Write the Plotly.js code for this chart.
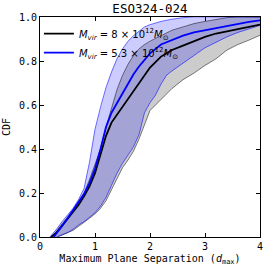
<!DOCTYPE html>
<html>
<head>
<meta charset="utf-8">
<script src="https://cdn.plot.ly/plotly-3.0.1.min.js"></script>
<style>html,body{margin:0;padding:0;background:#fff;}#chart{width:266px;height:267px;}</style>
</head>
<body>
<div id="chart"></div>
<script>
// Median CDF, M_vir = 8e12
var blackMedX = [0.2,0.3,0.4,0.5,0.6,0.7,0.8,0.9,1.0,1.1,1.2,1.3,1.4,1.5,1.6,1.7,1.8,1.9,2.0,2.2,2.4,2.6,2.8,3.0,3.2,3.4,3.6,3.8,4.0];
var blackMedY = [0,0.02,0.05,0.08,0.11,0.145,0.185,0.23,0.29,0.37,0.46,0.52,0.555,0.59,0.625,0.66,0.70,0.735,0.77,0.82,0.85,0.87,0.89,0.91,0.925,0.935,0.945,0.955,0.965];
// Upper envelope, M_vir = 8e12
var blackUpX = [0.2,0.3,0.4,0.5,0.6,0.7,0.8,0.9,1.0,1.1,1.2,1.3,1.4,1.5,1.6,1.7,1.8,1.9,2.0,2.2,2.4,2.6,2.8,3.0,3.2,3.4,3.6,3.8,4.0];
var blackUpY = [0,0.025,0.06,0.09,0.12,0.16,0.20,0.26,0.33,0.40,0.50,0.59,0.67,0.735,0.785,0.825,0.855,0.875,0.89,0.915,0.94,0.955,0.97,0.98,0.99,0.997,1.0,1.0,1.0];
// Lower envelope, M_vir = 8e12
var blackLowX = [0.32,0.4,0.5,0.6,0.7,0.8,0.9,1.0,1.1,1.2,1.3,1.4,1.5,1.6,1.7,1.8,1.9,2.0,2.2,2.4,2.6,2.8,3.0,3.2,3.4,3.6,3.8,4.0];
var blackLowY = [0,0.008,0.018,0.03,0.048,0.065,0.085,0.105,0.13,0.165,0.215,0.27,0.315,0.35,0.39,0.445,0.51,0.575,0.625,0.675,0.715,0.745,0.78,0.81,0.85,0.875,0.895,0.917];

// Median CDF, M_vir = 5.3e12
var blueMedX = [0.25,0.3,0.4,0.5,0.6,0.7,0.8,0.9,1.0,1.1,1.2,1.3,1.4,1.5,1.6,1.7,1.8,1.9,2.0,2.2,2.4,2.6,2.8,3.0,3.2,3.4,3.6,3.8,4.0];
var blueMedY = [0,0.015,0.05,0.085,0.12,0.155,0.195,0.245,0.31,0.40,0.50,0.565,0.61,0.655,0.70,0.74,0.775,0.805,0.835,0.875,0.895,0.915,0.93,0.94,0.95,0.96,0.97,0.978,0.985];
// Upper envelope, M_vir = 5.3e12
var blueUpX = [0.18,0.3,0.4,0.5,0.6,0.7,0.8,0.9,1.0,1.1,1.2,1.3,1.4,1.5,1.6,1.7,1.8,1.9,2.0,2.2,2.4,2.6,2.8,3.0,4.0];
var blueUpY = [0,0.035,0.07,0.10,0.13,0.17,0.22,0.34,0.49,0.59,0.68,0.75,0.81,0.855,0.89,0.915,0.935,0.955,0.965,0.98,0.99,0.997,1.0,1.0,1.0];
// Lower envelope, M_vir = 5.3e12
var blueLowX = [0.3,0.4,0.5,0.6,0.7,0.8,0.9,1.0,1.1,1.2,1.3,1.4,1.5,1.6,1.7,1.8,1.9,2.0,2.1,2.2,2.3,2.4,2.6,2.8,3.0,3.2,3.4,3.6,3.8,4.0];
var blueLowY = [0,0.01,0.02,0.035,0.055,0.07,0.09,0.11,0.14,0.18,0.235,0.29,0.335,0.37,0.41,0.465,0.565,0.61,0.645,0.695,0.735,0.755,0.79,0.825,0.86,0.885,0.91,0.93,0.945,0.962];

var seriesNames = ['<i>M</i><sub><i>vir</i></sub> = 8 × 10<sup>12</sup><i>M</i><sub>⊙</sub>',
                   '<i>M</i><sub><i>vir</i></sub> = 5.3 × 10<sup>12</sup><i>M</i><sub>⊙</sub>'];
var xTicks = [0,1,2,3,4];
var chartTitle = 'ESO324-024';
var xTitle = 'Maximum Plane Separation (<i>d</i><sub>max</sub>)';
var yTitle = 'CDF';

function band(lx, ly, ux, uy) {
  return {x: lx.concat(ux.slice().reverse()), y: ly.concat(uy.slice().reverse())};
}
var gb = band(blackLowX, blackLowY, blackUpX, blackUpY);
var bb = band(blueLowX, blueLowY, blueUpX, blueUpY);

var traces = [
  {x: gb.x, y: gb.y, mode: 'lines', fill: 'toself', fillcolor: 'rgba(0,0,0,0.2)', line: {width: 0}, showlegend: false, hoverinfo: 'skip'},
  {x: bb.x, y: bb.y, mode: 'lines', fill: 'toself', fillcolor: 'rgba(0,0,255,0.2)', line: {width: 0}, showlegend: false, hoverinfo: 'skip'},
  {x: blackUpX, y: blackUpY, mode: 'lines', line: {color: 'rgba(0,0,0,0.7)', width: 0.7}, showlegend: false},
  {x: blackLowX, y: blackLowY, mode: 'lines', line: {color: 'rgba(0,0,0,0.7)', width: 0.7}, showlegend: false},
  {x: blueUpX, y: blueUpY, mode: 'lines', line: {color: 'rgba(0,0,255,0.8)', width: 0.7}, showlegend: false},
  {x: blueLowX, y: blueLowY, mode: 'lines', line: {color: 'rgba(0,0,255,0.8)', width: 0.7}, showlegend: false},
  {x: blackMedX, y: blackMedY, mode: 'lines', name: seriesNames[0], line: {color: '#000000', width: 1.8}},
  {x: blueMedX, y: blueMedY, mode: 'lines', name: seriesNames[1], line: {color: '#0000ff', width: 1.8}}
];

var mono = 'DejaVu Sans Mono, monospace';
var layout = {
  width: 266, height: 267,
  margin: {l: 40, r: 6, t: 17, b: 30, pad: 0},
  paper_bgcolor: '#ffffff', plot_bgcolor: '#ffffff',
  font: {family: mono, size: 10, color: '#000'},
  title: {text: chartTitle, font: {family: mono, size: 12.5, color: '#000'}, x: 0.5, xref: 'paper', y: 1 - 8.5/267, yanchor: 'middle'},
  showlegend: true,
  legend: {x: -0.005, y: 0.99, xanchor: 'left', yanchor: 'top', bgcolor: 'rgba(0,0,0,0)', borderwidth: 0,
           font: {family: 'DejaVu Sans, sans-serif', size: 10, color: '#000'}, tracegroupgap: 0},
  xaxis: {range: [0, 4], tickvals: xTicks, ticks: 'inside', ticklen: 4, tickwidth: 1, tickcolor: '#000',
          mirror: 'ticks', showline: true, linecolor: '#000', linewidth: 1, showgrid: false, zeroline: false,
          tickfont: {family: mono, size: 10}, title: {text: xTitle, font: {family: mono, size: 10}, standoff: 3}},
  yaxis: {range: [0, 1], dtick: 0.2, tick0: 0, tickformat: '.1f', ticks: 'inside', ticklen: 4, tickwidth: 1, tickcolor: '#000',
          mirror: 'ticks', showline: true, linecolor: '#000', linewidth: 1, showgrid: false, zeroline: false,
          tickfont: {family: mono, size: 10}, title: {text: yTitle, font: {family: mono, size: 10}, standoff: 6}}
};
Plotly.newPlot('chart', traces, layout, {staticPlot: true, displayModeBar: false});
</script>
</body>
</html>
